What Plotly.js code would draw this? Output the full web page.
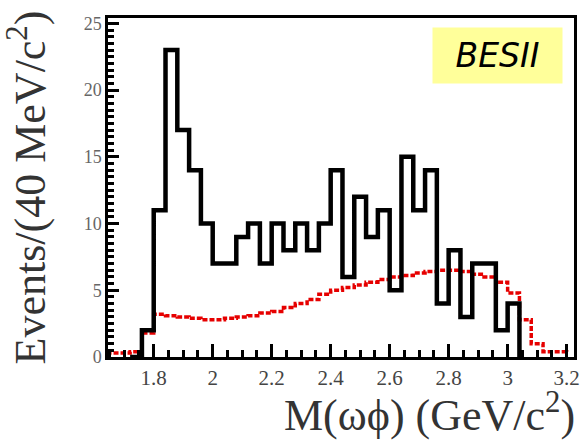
<!DOCTYPE html>
<html>
<head>
<meta charset="utf-8">
<script src="https://cdn.plot.ly/plotly-3.0.1.min.js"></script>
<style>
  html, body { margin: 0; padding: 0; background: #ffffff; }
  #chart { width: 582px; height: 440px; }
</style>
</head>
<body>
<div id="chart"></div>
<script>
// Data: bin left edges (GeV/c^2) and event counts per 40 MeV/c^2
const dataEdges = [1.72, 1.76, 1.80, 1.84, 1.88, 1.92, 1.96, 2.00, 2.04, 2.08, 2.12, 2.16, 2.20, 2.24,
                   2.28, 2.32, 2.36, 2.40, 2.44, 2.48, 2.52, 2.56, 2.60, 2.64, 2.68, 2.72, 2.76, 2.80,
                   2.84, 2.88, 2.92, 2.96, 3.00, 3.04];
const dataCounts = [0, 2, 11, 23, 17, 14, 10, 7, 7, 9, 10, 7, 10, 8,
                    10, 8, 10, 14, 6, 12, 9, 11, 5, 15, 11, 14, 4, 8,
                    3, 7, 7, 2, 4, 0];

// Phase-space MC (red dashed)
const mcEdges = [1.64, 1.68, 1.72, 1.76, 1.80, 1.84, 1.88, 1.92, 1.96, 2.00, 2.04, 2.08, 2.12, 2.16,
                 2.20, 2.24, 2.28, 2.32, 2.36, 2.40, 2.44, 2.48, 2.52, 2.56, 2.60, 2.64, 2.68, 2.72,
                 2.76, 2.80, 2.84, 2.88, 2.92, 2.96, 3.00, 3.04, 3.08, 3.12, 3.16, 3.20];
const mcCounts = [0.3, 0.3, 0.4, 1.8, 3.2, 3.1, 3.0, 2.9, 2.8, 2.8, 2.9, 3.0, 3.1, 3.3,
                  3.4, 3.7, 4.0, 4.3, 4.7, 5.0, 5.2, 5.4, 5.6, 5.8, 6.0, 6.1, 6.3, 6.4,
                  6.5, 6.5, 6.4, 6.2, 6.0, 5.6, 4.8, 2.8, 1.0, 0.4, 0.4, 0.3];

const xTitle = "M(ωϕ) (GeV/c<sup>2</sup>)";
const yTitle = "Events/(40 MeV/c<sup>2</sup>)";
const tagText = "<i>BESII</i>";

const serif = "Liberation Serif, Times New Roman, serif";

const traces = [
  {
    x: mcEdges, y: mcCounts, type: 'scatter', mode: 'lines',
    line: { shape: 'hv', color: '#e60000', width: 3.5, dash: '5px,2px' }
  },
  {
    x: dataEdges, y: dataCounts, type: 'scatter', mode: 'lines',
    line: { shape: 'hv', color: '#000000', width: 4.5 }
  }
];

const layout = {
  width: 582, height: 440,
  margin: { l: 108, r: 8, t: 18, b: 83 },
  showlegend: false,
  hovermode: false,
  xaxis: {
    range: [1.645, 3.225], dtick: 0.2,
    ticks: 'inside', ticklen: 13, tickwidth: 2.5, tickcolor: '#000',
    minor: { dtick: 0.05, ticks: 'inside', ticklen: 7, tickwidth: 2.5, tickcolor: '#000' },
    showline: true, linewidth: 2.5, linecolor: '#000', mirror: true,
    showgrid: false, zeroline: false,
    tickfont: { family: serif, size: 21, color: '#444' }
  },
  yaxis: {
    range: [0, 25.4], dtick: 5,
    ticks: 'inside', ticklen: 11, tickwidth: 2.5, tickcolor: '#000',
    minor: { dtick: 0.5, ticks: 'inside', ticklen: 6, tickwidth: 2.5, tickcolor: '#000' },
    showline: true, linewidth: 2.5, linecolor: '#000', mirror: true,
    showgrid: false, zeroline: false,
    tickfont: { family: serif, size: 18, color: '#666' },
    title: { text: yTitle, font: { family: serif, size: 44, color: '#333' }, standoff: 32 }
  },
  annotations: [
    {
      text: xTitle, xref: 'paper', yref: 'paper', x: 1.007, y: -0.165,
      xanchor: 'right', yanchor: 'middle', showarrow: false,
      font: { family: serif, size: 44, color: '#333' }
    },
    {
      text: tagText, xref: 'paper', yref: 'paper', x: 0.836, y: 0.889,
      xanchor: 'center', yanchor: 'middle', showarrow: false,
      bgcolor: '#ffff9a', width: 127, height: 53,
      font: { family: 'DejaVu Sans, sans-serif', size: 33, color: '#000' }
    }
  ]
};

Plotly.newPlot('chart', traces, layout, { displayModeBar: false });
</script>
</body>
</html>
